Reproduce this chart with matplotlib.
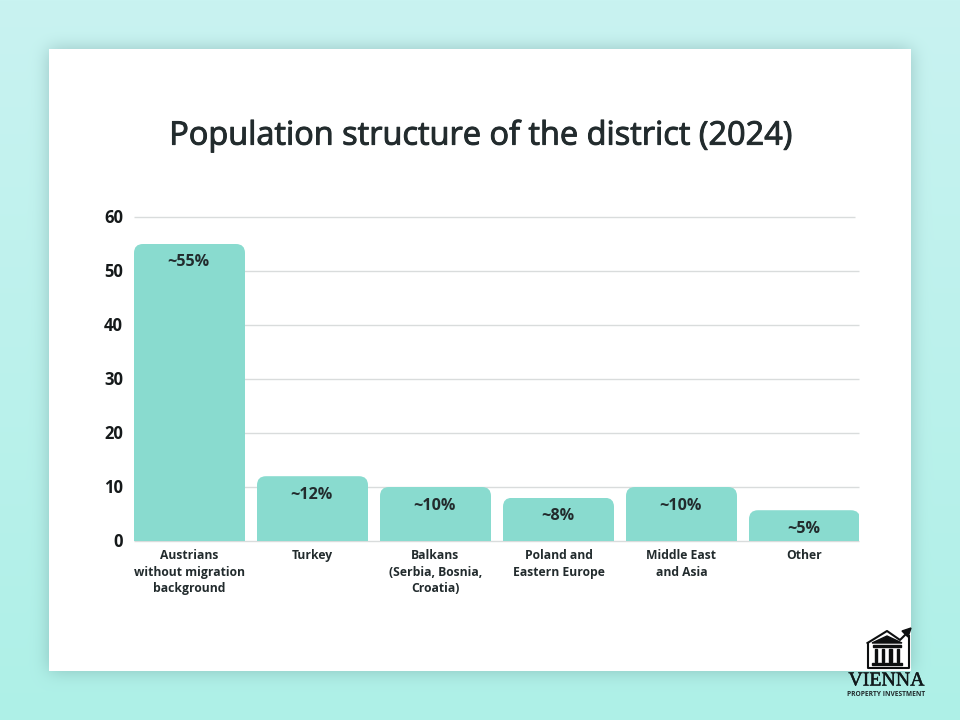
import numpy as np
import matplotlib
matplotlib.use('Agg')
import matplotlib.pyplot as plt
import matplotlib.patheffects as pe
from matplotlib.patches import FancyBboxPatch, Polygon, Rectangle
from matplotlib.transforms import ScaledTranslation

categories = ['Austrians\nwithout migration\nbackground', 'Turkey', 'Balkans\n(Serbia, Bosnia,\nCroatia)',
              'Poland and\nEastern Europe', 'Middle East\nand Asia', 'Other']
values = [55, 12, 10, 8, 10, 5.7]
value_labels = ['~55%', '~12%', '~10%', '~8%', '~10%', '~5%']
y_ticks = [0, 10, 20, 30, 40, 50, 60]

W, H = 960, 720
BAR = '#89dbcf'
DARK = '#222b2d'
plt.rcParams['font.family'] = ['Open Sans', 'DejaVu Sans']


def box_blur(a, r):
    # three passes, near enough to a gaussian
    k = np.ones(2 * r + 1) / (2 * r + 1)
    for _ in range(3):
        a = np.apply_along_axis(lambda m: np.convolve(m, k, mode='same'), 0, a)
        a = np.apply_along_axis(lambda m: np.convolve(m, k, mode='same'), 1, a)
    return a


def make_background():
    top = np.array([201, 243, 241]) / 255
    bottom = np.array([174, 240, 231]) / 255
    t = np.linspace(0, 1, H)[:, None, None]
    img = top * (1 - t) + bottom * t
    img = np.repeat(img, W, axis=1)
    # card shadow
    mask = np.zeros((H, W))
    mask[49:671, 49:911] = 1
    shadow = box_blur(mask, 8)[:, :, None] * 0.45
    shadow_col = np.array([95, 140, 140]) / 255
    img = img * (1 - shadow) + shadow_col * shadow
    img[49:671, 49:911] = 1
    return img


fig = plt.figure(figsize=(W / 100, H / 100), dpi=100)
bg = fig.add_axes([0, 0, 1, 1], zorder=0)
bg.imshow(make_background(), extent=(0, W, H, 0), aspect='auto', interpolation='nearest')
bg.set_xlim(0, W)
bg.set_ylim(H, 0)
bg.axis('off')

# the installed Open Sans has no medium weight, a thin stroke thickens it
bg.text(480, 136, 'Population structure of the district (2024)', ha='center', va='center',
        fontsize=23.4, color=DARK, path_effects=[pe.withStroke(linewidth=0.7, foreground=DARK)])

# chart area runs 134-859 px wide, y 0 at 541 and y 60 at 217
ax = fig.add_axes([134 / W, 1 - 541 / H, 725 / W, 324 / H], zorder=1)
ax.patch.set_alpha(0)
x = np.arange(len(categories))
width = 111 / 123
ax.set_xlim(-width / 2, -width / 2 + 725 / 123)
ax.set_ylim(0, 60)

for t in y_ticks:
    x_end = 0.995 if t == 60 else 1
    ax.plot([0, x_end], [t, t], transform=ax.get_yaxis_transform(), color='#d9dcdc', lw=1,
            zorder=1, clip_on=False, solid_capstyle='butt')

y_per_x = (60 / 324) / (1 / 123)
bars = ax.bar(x, values, width=width, color=BAR, zorder=2)
for xi, v, b in zip(x, values, bars):
    # round only the top corners: clip with a box that runs on below the axis
    clip = FancyBboxPatch((xi - width / 2, -10), width, v + 10,
                          boxstyle='round,pad=0,rounding_size=%f' % (9 / 123),
                          mutation_aspect=y_per_x, transform=ax.transData)
    b.set_clip_path(clip)

for xi, v, lab in zip(x, values, value_labels):
    ax.annotate(lab, (xi, v), xytext=(-1, -18.5), textcoords='offset pixels', ha='center', va='center',
                fontsize=11.6, fontweight='bold', color=DARK, zorder=3)

ax.set_yticks(y_ticks)
ax.set_yticklabels([str(t) for t in y_ticks], fontsize=12, fontweight='bold', color='#15191a')
ax.set_xticks(x)
ax.set_xticklabels(categories, fontsize=8.7, fontweight='bold', color=DARK, linespacing=1.33)
ax.tick_params(axis='y', length=0, pad=8)
ax.tick_params(axis='x', length=0, pad=6)
up_one = ScaledTranslation(0, 1 / 100, fig.dpi_scale_trans)
for lab in ax.get_yticklabels():
    lab.set_transform(lab.get_transform() + up_one)
for spine in ax.spines.values():
    spine.set_visible(False)

# logo, in pixel coordinates
logo = fig.add_axes([0, 0, 1, 1], zorder=2)
logo.set_xlim(0, W)
logo.set_ylim(H, 0)
logo.axis('off')
black = '#0d0f10'
logo.plot([867.5, 867.5, 909, 909], [643, 668, 668, 636], color=black, lw=1.5)
logo.plot([867.5, 887, 900, 908], [643, 631, 640, 632], color=black, lw=1.5)
logo.add_patch(Polygon([[911, 628], [902, 631], [908, 637]], color=black))
logo.add_patch(Polygon([[872, 643], [887, 636], [902, 643]], color=black))
logo.add_patch(Rectangle((873, 645), 28, 1.8, color=black))
logo.add_patch(Rectangle((872, 663), 30, 2, color=black))
for px in [874.5, 881.5, 889, 896.5]:
    logo.add_patch(Rectangle((px, 648.5), 2.8, 13.5, color=black))
logo.text(886.5, 681, 'VIENNA', ha='center', va='center', fontsize=14.3, family='Liberation Serif',
          color='#10181a', path_effects=[pe.withStroke(linewidth=0.3, foreground='#10181a')])
logo.text(886, 695, 'PROPERTY INVESTMENT', ha='center', va='center', fontsize=4.8, fontweight='bold', color='#222b2d')

fig.savefig('out.png', dpi=100)
